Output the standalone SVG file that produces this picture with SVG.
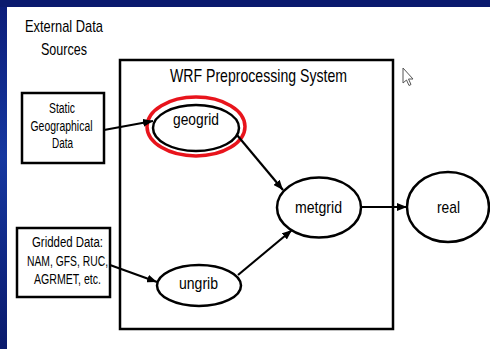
<svg xmlns="http://www.w3.org/2000/svg" width="490" height="349" viewBox="0 0 490 349">
  <defs>
    <linearGradient id="sideBand" x1="0" y1="0" x2="0" y2="1">
      <stop offset="0" stop-color="#0b1c78"/>
      <stop offset="0.45" stop-color="#1638a0"/>
      <stop offset="1" stop-color="#0a1a6c"/>
    </linearGradient>
    <marker id="arrow" viewBox="0 0 10 8" refX="10" refY="4" markerWidth="10" markerHeight="8" markerUnits="userSpaceOnUse" orient="auto">
      <path d="M0,0 L10,4 L0,8 Z" fill="#000"/>
    </marker>
    <style>
      .lbl { font-family: "Liberation Sans", Arial, sans-serif; fill: #000; text-anchor: middle; }
      .box { fill: #fff; stroke: #000; stroke-width: 2.5; }
      .oval { fill: #fff; stroke: #000; stroke-width: 2.5; }
      .edge { fill: none; stroke: #000; stroke-width: 2.2; marker-end: url(#arrow); }
    </style>
  </defs>

  <!-- slide background -->
  <rect x="0" y="0" width="490" height="349" fill="#fff"/>
  <rect x="0" y="0" width="7" height="349" fill="url(#sideBand)"/>
  <rect x="0" y="0" width="490" height="7" fill="#0a1a6e"/>

  <!-- heading for the input column -->
  <g id="external-sources">
    <text class="lbl" x="64" y="32" font-size="17" textLength="78" lengthAdjust="spacingAndGlyphs">External Data</text>
    <text class="lbl" x="64" y="55" font-size="17" textLength="46" lengthAdjust="spacingAndGlyphs">Sources</text>
  </g>

  <!-- system boundary -->
  <g id="wps">
    <rect x="120" y="60" width="273" height="269" fill="none" stroke="#000" stroke-width="2.5"/>
    <text class="lbl" x="258.5" y="82" font-size="19" textLength="177" lengthAdjust="spacingAndGlyphs">WRF Preprocessing System</text>
  </g>

  <g id="static-data">
    <rect class="box" x="22" y="93" width="82" height="70"/>
    <text class="lbl" x="62" y="113" font-size="14" textLength="26" lengthAdjust="spacingAndGlyphs">Static</text>
    <text class="lbl" x="61.5" y="131" font-size="14" textLength="62" lengthAdjust="spacingAndGlyphs">Geographical</text>
    <text class="lbl" x="62.5" y="148" font-size="14" textLength="21" lengthAdjust="spacingAndGlyphs">Data</text>
  </g>

  <g id="gridded-data">
    <rect class="box" x="17" y="228" width="93" height="69"/>
    <text class="lbl" x="67.5" y="247" font-size="14" textLength="71" lengthAdjust="spacingAndGlyphs">Gridded Data:</text>
    <text class="lbl" x="67.5" y="266" font-size="14" textLength="81" lengthAdjust="spacingAndGlyphs">NAM, GFS, RUC,</text>
    <text class="lbl" x="67.5" y="284" font-size="14" textLength="67" lengthAdjust="spacingAndGlyphs">AGRMET, etc.</text>
  </g>

  <g id="geogrid">
    <ellipse cx="196" cy="126.5" rx="49" ry="29.5" fill="none" stroke="#e8141c" stroke-width="3.5"/>
    <ellipse class="oval" cx="196" cy="128" rx="43" ry="23"/>
    <text class="lbl" x="196" y="125" font-size="17" textLength="46" lengthAdjust="spacingAndGlyphs">geogrid</text>
  </g>

  <g id="ungrib">
    <ellipse class="oval" cx="199" cy="285.5" rx="42" ry="20.5"/>
    <text class="lbl" x="198.5" y="289" font-size="17" textLength="39" lengthAdjust="spacingAndGlyphs">ungrib</text>
  </g>

  <g id="metgrid">
    <ellipse class="oval" cx="319" cy="207.5" rx="42" ry="30"/>
    <text class="lbl" x="318.5" y="213" font-size="17" textLength="47" lengthAdjust="spacingAndGlyphs">metgrid</text>
  </g>

  <g id="real">
    <ellipse class="oval" cx="448" cy="207" rx="41" ry="35"/>
    <text class="lbl" x="448.5" y="213" font-size="17" textLength="23" lengthAdjust="spacingAndGlyphs">real</text>
  </g>

  <g id="connectors">
    <line class="edge" x1="104" y1="130" x2="153" y2="121"/>
    <line class="edge" x1="110" y1="265" x2="157" y2="282"/>
    <line class="edge" x1="237" y1="135" x2="283" y2="190"/>
    <line class="edge" x1="238" y1="275" x2="292" y2="230"/>
    <line class="edge" x1="361" y1="207" x2="407" y2="207"/>
  </g>

  <!-- mouse pointer -->
  <path d="M403,68 L403,83 L406.5,80 L409,85.5 L411,84.5 L408.5,79 L413,79 Z" fill="#fff" stroke="#555" stroke-width="1"/>
</svg>
